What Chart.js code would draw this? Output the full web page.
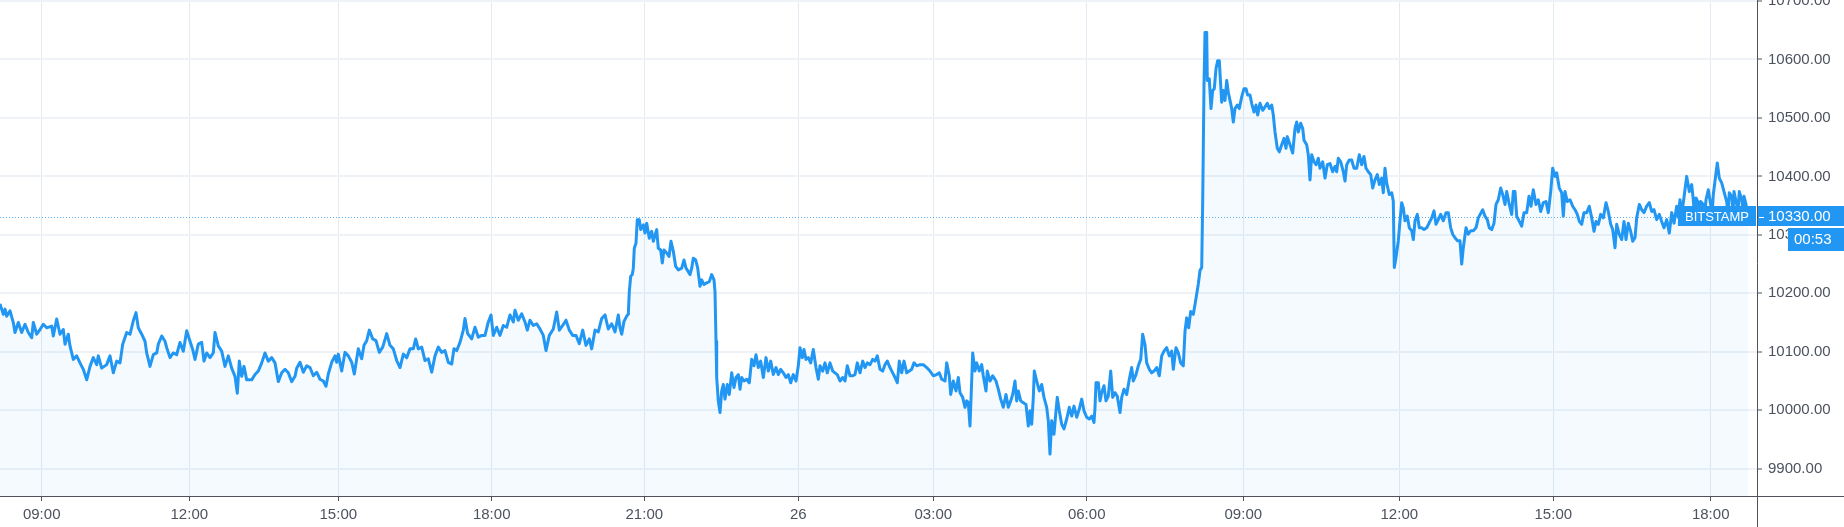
<!DOCTYPE html>
<html>
<head>
<meta charset="utf-8">
<script src="https://cdn.jsdelivr.net/npm/chart.js@4.4.1/dist/chart.umd.min.js"></script>
<style>
  html, body { margin: 0; padding: 0; background: #ffffff; }
  #wrap { width: 1844px; height: 527px; }
</style>
</head>
<body>
<div id="wrap"><canvas id="c" width="1844" height="527"></canvas></div>
<script>
// ---- Data ----
const exchange = 'BITSTAMP';
const lastPrice = 10330;
const countdown = '00:53';

// x-axis tick positions (bar index) and their labels
const tickBars   = [41.7, 189.3, 338.3, 491.7, 644.3, 798.3, 933.3, 1086.7, 1243.3, 1399.3, 1553.3, 1710.7];
const tickLabels = ['09:00', '12:00', '15:00', '18:00', '21:00', '26', '03:00', '06:00', '09:00', '12:00', '15:00', '18:00'];

// price axis tick values
const priceTicks = [9900, 10000, 10100, 10200, 10300, 10400, 10500, 10600, 10700];

// visible price range
const priceMin = 9853.3;
const priceMax = 10701.7;
const barMin = 0;
const barMax = 1757;

// [bar index, close price]
const pricePoints = [
[0,10182],[3.3,10164],[5,10173],[6.7,10161],[10,10170],[13.3,10150],[15,10133],[18.3,10150],[21.7,10133],[25,10147],
[28.3,10133],[31.7,10124],[33.3,10150],[36.7,10130],[40,10138],[43.3,10147],[46.7,10141],[51.7,10144],[53.3,10127],[56.7,10156],
[60,10130],[63.3,10138],[65,10113],[68.3,10130],[70,10110],[73.3,10087],[76.7,10093],[80,10081],[83.3,10070],[86.7,10052],
[90,10075],[93.3,10090],[96.7,10078],[98.3,10093],[101.7,10072],[106.7,10078],[110,10093],[113.3,10064],[116.7,10084],[120,10081],
[122.7,10113],[126.7,10133],[130,10130],[133.3,10153],[136,10167],[138.3,10141],[141.7,10130],[145,10118],[146.7,10098],[150,10075],
[153.3,10095],[156.7,10098],[158.3,10113],[161.7,10127],[165,10118],[166.7,10107],[170,10090],[173.3,10098],[176.7,10095],[180,10116],
[183.3,10101],[186.7,10136],[190,10118],[192.7,10104],[195,10087],[198.3,10113],[201.7,10116],[204,10084],[206.7,10098],[210,10090],
[213.3,10098],[215,10133],[218.3,10110],[221.7,10101],[225,10075],[228.3,10093],[231.7,10072],[235,10058],[237.3,10029],[239.3,10084],
[241.7,10058],[244,10075],[246.7,10052],[251.7,10052],[255,10061],[258.3,10067],[261.7,10081],[265,10098],[268.3,10084],[271.7,10090],
[275,10081],[278.3,10049],[281.7,10064],[285,10070],[288.3,10064],[291.7,10049],[295,10058],[296.7,10072],
[300,10082],[303.3,10065],[306.7,10076],[310,10073],[313.3,10059],[316.7,10065],[320,10053],[323.3,10050],[326,10041],[328.3,10062],
[331.7,10082],[335,10093],[336.7,10082],[338.3,10096],[341.7,10067],[345,10099],[348.3,10093],[351.7,10082],[354.3,10062],[358.3,10105],
[361.7,10088],[364,10111],[366.7,10119],[369.3,10137],[372.7,10122],[376,10119],[379.3,10099],[382.7,10108],[386.7,10131],[390,10111],
[393.3,10105],[396.7,10085],[400,10073],[403.3,10096],[406.7,10090],[410,10105],[413.3,10105],[415.7,10122],[418.3,10105],[421.7,10108],
[425,10085],[428.3,10088],[431.7,10065],[435,10093],[438.3,10108],[441.7,10099],[445,10102],[448.3,10082],[451.7,10079],[454,10105],
[456.7,10102],[460,10116],[463.3,10137],[465,10157],[467.7,10131],[471.7,10122],[475,10142],[478.3,10125],[481.7,10128],[485,10128],
[488.3,10151],[491,10163],[493.3,10128],[496.7,10142],[500,10128],[503.3,10145],[506.7,10142],[510,10163],[513.3,10151],[515,10171],
[518.3,10154],[521.7,10165],[525,10151],[527.3,10137],[530,10154],[533.3,10145],[536.7,10148],[540,10139],[543.3,10128],[546,10102],
[549.3,10128],[553.3,10139],[556.7,10168],[559.3,10137],[562.7,10145],[566,10154],[569.3,10137],[572.7,10128],[576,10128],[579.3,10114],
[582.7,10137],[586,10111],[589.3,10122],[591.7,10105],[595,10137],[598.3,10134],[601.7,10157],[605,10163],[608.3,10139],[611.7,10148],
[615,10134],[618.3,10163],
[620,10141],[621.7,10130],[624,10152],[626.7,10161],[628.3,10164],[629.3,10203],[630.7,10229],[632.3,10232],[633.3,10243],[634.3,10277],
[636,10286],[637.3,10326],[639.3,10326],[640.7,10309],[643.3,10317],[645,10303],[646.7,10320],[649.3,10294],[651.7,10306],[653.3,10289],
[656.7,10309],[658.3,10277],[660.7,10274],[662.3,10252],[664,10274],[666.7,10269],[669,10263],[671,10289],[673.3,10272],[675.7,10246],
[678.3,10240],[681.7,10243],[684,10257],[686,10243],[688.3,10237],[690,10232],[691.7,10243],[693.3,10260],[695.7,10257],[697.7,10243],
[700,10212],[701.7,10223],[704,10215],[706.7,10218],[709.3,10220],[711.7,10232],[714,10223],[715,10203],[716,10118],[716.7,10056],
[718.3,10016],[720,9996],[721.7,10033],[723.3,10044],[725,10019],[727.3,10044],[729.3,10027],[731.7,10064],[734,10039],[736,10056],
[738.3,10061],[740,10036],[741.7,10056],[744,10050],[746.7,10053],[749.3,10047],[751.7,10087],[754,10076],[756,10095],[758.3,10073],
[760.7,10084],[763.3,10056],[766,10090],[768.3,10067],[770.7,10084],[773.3,10061],[776,10073],[778.3,10061],[780.7,10070],[783.3,10064],
[786,10056],[788.3,10061],[790.7,10047],[793.3,10061],[796,10050],[798.3,10076],[800,10107],[802.3,10090],[804,10104],[806,10087],
[808.3,10090],[810.7,10081],[813.3,10104],[816,10073],[818.3,10053],[820,10076],[822.7,10067],[825,10081],[827.3,10064],[830,10081],
[832.7,10067],[835,10064],[837.3,10061],[840,10050],[842.7,10056],[845,10050],[847.3,10076],[850,10059],[852.7,10059],[855,10061],
[857.3,10081],[860,10064],[862.7,10084],[865,10073],[867.3,10081],[870,10078],[872.7,10087],[875,10084],[877.3,10093],[880,10070],
[882.7,10067],[885,10078],[887.3,10084],[890,10073],[892.7,10064],[895,10056],[897.3,10047],[899.3,10084],[901.7,10064],[904,10084],
[906.7,10064],[909.3,10067],[911.7,10070],[914,10081],[916.7,10076],[920,10078],
[923.3,10078],[926.7,10073],[930,10067],[933.3,10059],[936.7,10061],[939.3,10064],[941.7,10053],[945,10050],[946.7,10081],[949.3,10059],
[950.7,10027],[953.3,10050],[956,10033],[958.3,10056],[960,10030],[962.7,10022],[965,10005],[966.7,10016],[968.3,10013],[970,9973],
[971.3,10033],[972.7,10098],[975,10067],[976.7,10081],[979.3,10067],[981.7,10078],[983.3,10059],[986,10033],[987.3,10067],[990,10050],
[992.7,10059],[996,10050],[998.3,10036],[1000.7,10019],[1003.3,10005],[1006,10027],[1008.3,10005],[1010.7,10016],[1012.7,10027],[1015,10050],
[1016.7,10016],[1018.3,10033],[1020.7,10016],[1023.3,10013],[1026,10010],[1028.3,9973],[1030,9999],[1031.7,9976],[1033.3,10022],[1034.3,10067],
[1036.7,10050],[1039.3,10033],[1041.7,10044],[1044,10022],[1046.7,10005],[1048.3,9982],[1050,9925],[1051.7,9982],[1054,9959],[1056,9999],
[1057.3,10022],[1059.3,9999],[1061.7,9976],[1064,9968],[1066.7,9985],[1069.3,10005],[1071.7,9990],[1074,10007],[1076.7,9988],[1079.3,10002],
[1081.7,10019],[1084,9999],[1086.7,9988],[1089.3,9985],[1091.7,9990],[1094,9979],[1095,10005],[1096,10047],[1098.3,10047],[1100,10016],
[1101.7,10030],[1104,10042],[1106,10016],[1108.3,10024],[1110.7,10067],[1112.7,10022],[1115,10030],[1117.3,10024],[1120,9996],[1121.7,10022],
[1124,10036],[1126.7,10027],[1129.3,10053],[1131.7,10073],[1133.3,10050],[1136,10061],[1138.3,10076],[1140.7,10087],[1142.7,10130],[1145,10112],
[1146.7,10081],[1149.3,10070],[1151.7,10064],[1154,10067],[1156.7,10073],[1159.3,10059],[1161.7,10093],[1164,10101],[1166.7,10107],[1169.3,10093],
[1171.7,10101],[1173.3,10070],[1176,10107],[1178.3,10098],[1180.7,10081],[1183.3,10076],[1185,10135],[1186.7,10158],[1188.7,10141],[1190.7,10169],
[1193.3,10164],[1195,10181],
[1196.7,10199],[1198.3,10216],[1200,10239],[1201.7,10244],[1202.7,10358],[1204,10556],[1205,10646],[1206.7,10646],[1207.3,10564],[1209.3,10567],
[1211,10516],[1212.7,10547],[1214.3,10550],[1216,10584],[1217.7,10598],[1219.3,10598],[1220.7,10556],[1221.7,10527],[1223.3,10547],[1225,10530],
[1226.7,10564],[1228.3,10544],[1230,10530],[1231.7,10516],[1233.3,10493],[1235,10516],[1237.3,10522],[1239.3,10516],[1241.7,10536],[1244,10550],
[1246,10550],[1247.7,10539],[1250,10539],[1251.7,10525],[1254,10510],[1256,10522],[1257.7,10505],[1260,10525],[1262.7,10513],[1265,10519],
[1267.3,10525],[1269.3,10516],[1271.7,10522],[1273.3,10505],[1275,10476],[1277.3,10448],[1279.3,10442],[1281.7,10454],[1284,10465],[1286,10448],
[1287.3,10468],[1290,10454],[1292.7,10440],[1295,10482],[1296.7,10493],[1298.3,10476],[1300.7,10491],[1302.7,10482],[1304,10462],[1306.7,10454],
[1308.3,10437],[1310,10394],[1311.7,10437],[1314,10425],[1316,10420],[1318.3,10431],[1320,10414],[1322.7,10425],[1325,10397],[1327.3,10420],
[1330,10422],[1332.7,10408],[1335,10417],[1336.7,10408],[1338.3,10431],[1340.7,10425],[1343.3,10408],[1345,10392],[1346.7,10420],[1349.3,10428],
[1351.7,10428],[1354,10414],[1356.7,10414],[1359.3,10437],[1361.7,10420],[1364,10434],[1366,10414],[1368.3,10408],[1370.7,10403],[1372.7,10380],
[1375,10394],[1377.3,10403],[1379.3,10386],[1381.7,10397],[1383.3,10372],[1385,10414],[1386.7,10389],[1389.3,10369],[1391.7,10372],[1393.3,10358],
[1394.3,10244],[1396,10261],[1398.3,10290],[1400,10324],[1401.7,10355],[1403.3,10346],[1405,10324],[1407.3,10332],[1409.3,10312],[1411.7,10307],
[1413.3,10292],[1415,10324],[1417.3,10335],[1419.3,10312],[1421.7,10312],[1424,10309],[1426.7,10312],[1429.3,10321],[1431.7,10329],[1434,10341],
[1436,10318],[1438.3,10326],[1440.7,10335],[1443.3,10324],[1446,10338],[1448.3,10338],[1450.7,10312],[1452.7,10301],[1455,10295],[1457.3,10290],
[1460,10290],[1461.7,10250],[1463.3,10278],[1466,10312],[1468.3,10301],[1470.7,10307],[1473.3,10307],[1476,10312],[1478.3,10329],
[1482.7,10343],[1485,10332],[1487.3,10326],[1489.3,10312],[1491.7,10309],[1494,10320],[1496,10352],[1498.3,10360],[1500.7,10380],[1502.7,10369],
[1505,10352],[1506.7,10374],[1509.3,10352],[1511.7,10335],[1513.3,10374],[1515,10374],[1516.7,10332],[1519.3,10323],[1521.7,10315],[1524,10338],
[1526.7,10338],[1529,10366],[1531,10349],[1533.3,10377],[1536,10352],[1538.3,10360],[1540.7,10340],[1543.3,10355],[1546,10357],[1548.3,10338],
[1550.7,10374],[1552.7,10414],[1555,10400],[1556.7,10406],[1559.3,10380],[1561.7,10372],[1563.3,10332],[1565,10374],[1567.3,10357],[1570,10360],
[1572.7,10349],[1575,10343],[1577.3,10335],[1579.3,10323],[1581.7,10318],[1584,10338],[1586.7,10338],[1589.3,10349],[1591.7,10329],[1594,10306],
[1596,10323],[1598.3,10318],[1600.7,10335],[1603.3,10329],[1606,10355],[1608.3,10340],[1610.7,10318],[1612.7,10309],[1615,10278],[1616.7,10318],
[1619.3,10301],[1621.7,10292],[1624,10323],[1626,10292],[1628.3,10320],[1630.7,10306],[1632.7,10289],[1635,10295],[1636.7,10329],[1639.3,10352],
[1641.7,10343],[1644,10338],[1646.7,10349],[1649.3,10355],[1651.7,10340],[1654,10343],[1656.7,10326],[1659.3,10335],[1661.7,10323],[1664,10312],
[1666.7,10326],[1669.3,10303],[1671.7,10338],[1674,10320],[1676.7,10349],[1678.3,10330],[1680,10360],[1681.7,10338],[1683.3,10355],[1686.7,10400],
[1689.3,10374],[1691.7,10386],[1693.3,10360],[1694.7,10328],[1696,10363],[1698.3,10355],[1699.5,10335],[1700.7,10357],[1703.3,10352],[1704.5,10330],
[1706,10360],[1708.3,10377],[1710.7,10352],[1712,10332],[1713.3,10369],[1716,10406],[1717.3,10423],[1719.3,10397],[1721.7,10389],[1724,10374],
[1726.7,10357],[1728,10336],[1729.3,10372],[1731.7,10366],[1733,10338],[1734,10374],[1736.7,10352],[1738,10340],[1739.3,10374],[1741.7,10360],
[1743,10342],[1744,10366],[1746,10352],[1748,10330]
];

// ---- Styles ----
const BLUE = '#2196f3';
const AXIS_COLOR = '#50535e';
const TEXT_COLOR = '#4c525e';
const FONT = '"Liberation Sans", Arial, sans-serif';

const overlay = {
  id: 'overlay',
  beforeDatasetsDraw(chart) {
    const { ctx, chartArea, scales } = chart;
    const py = Math.round(scales.y.getPixelForValue(lastPrice)) + 0.5;
    ctx.save();
    ctx.strokeStyle = 'rgba(33,150,243,0.75)';
    ctx.lineWidth = 1;
    ctx.setLineDash([1, 2]);
    ctx.beginPath();
    ctx.moveTo(chartArea.left, py);
    ctx.lineTo(chartArea.right, py);
    ctx.stroke();
    ctx.restore();
  },
  afterDraw(chart) {
    const { ctx, chartArea, scales, width, height } = chart;
    const py = Math.round(scales.y.getPixelForValue(lastPrice));
    ctx.save();
    // exchange tag on the chart pane
    ctx.font = '13px ' + FONT;
    const tw = ctx.measureText(exchange).width;
    const bRight = chartArea.right - 1;
    const bLeft = bRight - tw - 14;
    ctx.fillStyle = BLUE;
    ctx.fillRect(bLeft, py - 11, bRight - bLeft, 20);
    ctx.fillStyle = '#ffffff';
    ctx.textAlign = 'left';
    ctx.textBaseline = 'middle';
    ctx.fillText(exchange, bLeft + 7, py);
    // price tag in the axis
    ctx.fillStyle = BLUE;
    ctx.fillRect(chartArea.right + 1, py - 11, width - chartArea.right - 1, 20);
    ctx.strokeStyle = '#ffffff';
    ctx.lineWidth = 1;
    ctx.beginPath();
    ctx.moveTo(chartArea.right + 2, py + 0.5);
    ctx.lineTo(chartArea.right + 7, py + 0.5);
    ctx.stroke();
    ctx.font = '15px ' + FONT;
    ctx.fillStyle = '#ffffff';
    ctx.fillText(lastPrice.toFixed(2), chartArea.right + 11, py);
    // countdown tag
    ctx.fillStyle = BLUE;
    ctx.fillRect(1788, py + 11, width - 1788, 23);
    ctx.fillStyle = '#ffffff';
    ctx.fillText(countdown, 1794, py + 23);
    // axis lines
    ctx.strokeStyle = AXIS_COLOR;
    ctx.lineWidth = 1;
    ctx.beginPath();
    ctx.moveTo(0, chartArea.bottom + 0.5);
    ctx.lineTo(width, chartArea.bottom + 0.5);
    ctx.moveTo(chartArea.right + 0.5, 0);
    ctx.lineTo(chartArea.right + 0.5, height);
    ctx.stroke();
    ctx.restore();
  }
};

new Chart(document.getElementById('c'), {
  type: 'line',
  data: {
    datasets: [{
      data: pricePoints.map(p => ({ x: p[0], y: p[1] })),
      borderColor: BLUE,
      borderWidth: 3,
      backgroundColor: 'rgba(33,150,243,0.05)',
      fill: 'start',
      pointRadius: 0,
      tension: 0,
      borderJoinStyle: 'round'
    }]
  },
  options: {
    responsive: false,
    animation: false,
    devicePixelRatio: 1,
    layout: { padding: 0 },
    plugins: { legend: { display: false }, tooltip: { enabled: false } },
    scales: {
      x: {
        type: 'linear',
        position: 'bottom',
        min: barMin,
        max: barMax,
        afterBuildTicks: s => { s.ticks = tickBars.map(v => ({ value: v })); },
        afterFit: s => { s.height = 31; s.paddingLeft = 0; s.paddingRight = 0; },
        ticks: {
          autoSkip: false, maxRotation: 0, minRotation: 0,
          padding: 5,
          color: TEXT_COLOR,
          font: { family: FONT, size: 15 },
          callback: (v, i) => tickLabels[i]
        },
        grid: { color: '#e3ebf2', lineWidth: 1, tickLength: 5, tickColor: AXIS_COLOR, tickWidth: 1 },
        border: { display: false }
      },
      y: {
        type: 'linear',
        position: 'right',
        min: priceMin,
        max: priceMax,
        afterBuildTicks: s => { s.ticks = priceTicks.map(v => ({ value: v })); },
        afterFit: s => { s.width = 87; s.paddingTop = 0; s.paddingBottom = 0; },
        ticks: {
          padding: 6,
          color: TEXT_COLOR,
          font: { family: FONT, size: 15 },
          callback: v => Number(v).toFixed(2)
        },
        grid: { color: '#eff3f7', lineWidth: 2, tickLength: 5, tickColor: AXIS_COLOR, tickWidth: 1 },
        border: { display: false }
      }
    }
  },
  plugins: [overlay]
});
</script>
</body>
</html>
